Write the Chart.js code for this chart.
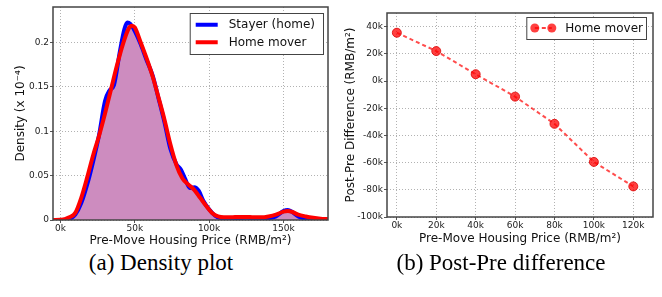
<!DOCTYPE html>
<html>
<head>
<meta charset="utf-8">
<script src="https://cdn.jsdelivr.net/npm/chart.js@4.4.0/dist/chart.umd.min.js"></script>
<style>
  body { margin: 0; width: 662px; height: 297px; background: #fff; position: relative; overflow: hidden; }
  .panel { position: absolute; top: 0; }
  #left { left: 0; width: 335px; height: 248px; }
  #right { left: 330px; width: 332px; height: 246px; }
  .caption { position: absolute; top: 250px; font-family: "Liberation Serif", serif; font-size: 23px; color: #000; white-space: nowrap; transform: translateX(-50%); }
</style>
</head>
<body>
<div class="panel" id="left"><canvas id="densityChart"></canvas></div>
<div class="panel" id="right"><canvas id="diffChart"></canvas></div>
<div class="caption" style="left:161px">(a) Density plot</div>
<div class="caption" style="left:501px">(b) Post-Pre difference</div>
<script>
// ---- (a) density curves, price in RMB/m2, density in 1e-4 ----
const stayerPrice = [-5000, 0, 3000, 6000, 10000, 14000, 18000, 22000, 26000, 30000, 33000, 36000, 40000, 43000, 45000, 47000, 50000, 54000, 58000, 62000, 66000, 70000, 74000, 78000, 81000, 84000, 87000, 90000, 93000, 96000, 100000, 104000, 108000, 112000, 120000, 125000, 130000, 135000, 140000, 145000, 150000, 153000, 156000, 160000, 165000, 170000, 175000, 180000];
const stayerDensity = [0, 0, 0.0003, 0.001, 0.006, 0.019, 0.04, 0.066, 0.096, 0.134, 0.146, 0.152, 0.19, 0.215, 0.2225, 0.221, 0.213, 0.198, 0.18, 0.163, 0.137, 0.11, 0.08, 0.063, 0.057, 0.046, 0.036, 0.037, 0.033, 0.022, 0.012, 0.005, 0.002, 0.0015, 0.002, 0.0025, 0.002, 0.0015, 0.002, 0.004, 0.010, 0.0113, 0.009, 0.004, 0.0015, 0.0008, 0.0005, 0.0003];

const moverPrice = [-5000, 0, 3000, 6000, 10000, 14000, 18000, 22000, 26000, 30000, 34000, 38000, 42000, 46000, 48000, 50000, 54000, 58000, 62000, 66000, 70000, 74000, 78000, 82000, 86000, 90000, 94000, 98000, 102000, 106000, 110000, 115000, 120000, 125000, 130000, 135000, 140000, 145000, 150000, 153000, 156000, 160000, 165000, 170000, 175000, 180000];
const moverDensity = [0, 0.0003, 0.001, 0.003, 0.008, 0.025, 0.048, 0.073, 0.095, 0.12, 0.147, 0.174, 0.198, 0.216, 0.219, 0.217, 0.200, 0.182, 0.162, 0.138, 0.113, 0.085, 0.062, 0.047, 0.040, 0.034, 0.025, 0.016, 0.008, 0.004, 0.003, 0.003, 0.0035, 0.0035, 0.003, 0.003, 0.004, 0.006, 0.0095, 0.0102, 0.009, 0.006, 0.004, 0.0025, 0.0015, 0.001];

const densityXTicks = [0, 50000, 100000, 150000];
const densityXLabels = ['0k', '50k', '100k', '150k'];
const densityYTicks = [0, 0.05, 0.1, 0.15, 0.2];
const densityYLabels = ['0', '0.05', '0.1', '0.15', '0.2'];

// ---- (b) post-pre difference ----
const prePrice = [0, 20000, 40000, 60000, 80000, 100000, 120000];
const postPreDiff = [35500, 22000, 5000, -11500, -31500, -59500, -77500];

const diffXTicks = [0, 20000, 40000, 60000, 80000, 100000, 120000];
const diffXLabels = ['0k', '20k', '40k', '60k', '80k', '100k', '120k'];
const diffYTicks = [-100000, -80000, -60000, -40000, -20000, 0, 20000, 40000];
const diffYLabels = ['-100k', '-80k', '-60k', '-40k', '-20k', '0k', '20k', '40k'];

const tickFont = { family: 'DejaVu Sans', size: 9 };
const titleFont = { family: 'DejaVu Sans', size: 12 };
const gridStyle = { color: 'rgba(0,0,0,0.3)', lineWidth: 1, tickLength: 3, tickColor: '#555', tickBorderDash: [] };
// border.dash is what dashes the grid lines in v4
const borderStyle = { display: false, dash: [1, 2] };

function fixedTicks(values) {
    return function(scale) {
        scale.ticks = values.map(v => ({ value: v }));
    };
}

function toPoints(xs, ys) {
    return xs.map((x, i) => ({ x: x, y: ys[i] }));
}

// plot frame (matplotlib spines)
const framePlugin = {
    id: 'frame',
    afterDatasetsDraw(chart) {
        const a = chart.chartArea, ctx = chart.ctx;
        ctx.save();
        ctx.strokeStyle = '#444';
        ctx.lineWidth = 1.5;
        ctx.strokeRect(a.left, a.top, a.right - a.left, a.bottom - a.top);
        ctx.restore();
    }
};

// boxed legend drawn inside the plot, top right
const boxLegendPlugin = {
    id: 'boxLegend',
    afterDraw(chart, args, opts) {
        const ctx = chart.ctx, a = chart.chartArea;
        ctx.save();
        ctx.font = '12px "DejaVu Sans"';
        const textW = Math.max(...opts.items.map(it => ctx.measureText(it.label).width));
        const w = opts.padLeft + opts.handle + opts.gap + textW + opts.padRight;
        const h = opts.padTop * 2 + opts.rowH * opts.items.length;
        const x = a.right - opts.right - w;
        const y = a.top + opts.top;
        ctx.fillStyle = '#fff';
        ctx.fillRect(x, y, w, h);
        ctx.strokeStyle = '#444';
        ctx.lineWidth = 1;
        ctx.strokeRect(x + 0.5, y + 0.5, w, h);
        opts.items.forEach((it, i) => {
            const cy = y + opts.padTop + opts.rowH * (i + 0.5);
            const x0 = x + opts.padLeft, x1 = x0 + opts.handle;
            ctx.strokeStyle = it.color;
            ctx.lineWidth = it.width;
            ctx.setLineDash(it.dash || []);
            ctx.beginPath();
            ctx.moveTo(x0 + (it.marker ? it.marker : 0), cy);
            ctx.lineTo(x1 - (it.marker ? it.marker : 0), cy);
            ctx.stroke();
            ctx.setLineDash([]);
            if (it.marker) {
                ctx.fillStyle = it.color;
                [x0 + it.marker, x1 - it.marker].forEach(mx => {
                    ctx.beginPath();
                    ctx.arc(mx, cy, it.marker, 0, Math.PI * 2);
                    ctx.fill();
                });
            }
            ctx.fillStyle = '#111';
            ctx.textBaseline = 'middle';
            ctx.fillText(it.label, x1 + opts.gap, cy + 0.5);
        });
        ctx.restore();
    }
};

// (a) Density plot
new Chart(document.getElementById('densityChart'), {
    type: 'line',
    data: {
        datasets: [{
            label: 'Stayer (home)',
            data: toPoints(stayerPrice, stayerDensity),
            borderColor: '#0000ff',
            borderWidth: 4,
            backgroundColor: '#cd8cbf',
            fill: 'origin',
            pointRadius: 0,
            cubicInterpolationMode: 'monotone',
            order: 2
        }, {
            label: 'Home mover',
            data: toPoints(moverPrice, moverDensity),
            borderColor: '#ff0000',
            borderWidth: 4,
            backgroundColor: '#cd8cbf',
            fill: 'origin',
            pointRadius: 0,
            cubicInterpolationMode: 'monotone',
            order: 1
        }]
    },
    options: {
        responsive: true,
        maintainAspectRatio: false,
        animation: false,
        layout: { padding: { left: 0, right: 7, top: 7, bottom: 0 } },
        plugins: {
            legend: { display: false },
            tooltip: { enabled: false },
            filler: { drawTime: 'beforeDatasetsDraw' },
            boxLegend: {
                right: 5, top: 6, padLeft: 6, handle: 22, gap: 11, padRight: 8, padTop: 3, rowH: 17.5,
                items: [
                    { label: 'Stayer (home)', color: '#0000ff', width: 4 },
                    { label: 'Home mover', color: '#ff0000', width: 4 }
                ]
            }
        },
        scales: {
            x: {
                type: 'linear',
                min: -5000,
                max: 180000,
                afterBuildTicks: fixedTicks(densityXTicks),
                afterFit: function(scale) { scale.height = 28; },
                grid: gridStyle,
                border: borderStyle,
                ticks: {
                    font: tickFont, color: '#222', padding: 0, maxRotation: 0,
                    callback: function(value, index) { return densityXLabels[index]; }
                },
                title: { display: true, text: 'Pre-Move Housing Price (RMB/m²)', font: titleFont, color: '#111', padding: { top: 0, bottom: 0 } }
            },
            y: {
                min: 0,
                max: 0.24,
                afterBuildTicks: fixedTicks(densityYTicks),
                afterFit: function(scale) { scale.width = 53; },
                grid: gridStyle,
                border: borderStyle,
                ticks: {
                    font: tickFont, color: '#222', padding: 1,
                    callback: function(value, index) { return densityYLabels[index]; }
                },
                title: { display: true, text: 'Density (x 10⁻⁴)', font: titleFont, color: '#111', padding: { top: 14, bottom: 0 } }
            }
        }
    },
    plugins: [framePlugin, boxLegendPlugin]
});

// (b) Post-Pre difference
new Chart(document.getElementById('diffChart'), {
    type: 'line',
    data: {
        datasets: [{
            label: 'Home mover',
            data: toPoints(prePrice, postPreDiff),
            borderColor: 'rgba(255,0,0,0.7)',
            borderWidth: 2,
            borderDash: [4, 3],
            pointRadius: 4.5,
            pointBackgroundColor: 'rgba(255,0,0,0.75)',
            pointBorderColor: 'rgba(220,0,0,0.8)',
            pointBorderWidth: 1,
            fill: false,
            tension: 0
        }]
    },
    options: {
        responsive: true,
        maintainAspectRatio: false,
        animation: false,
        layout: { padding: { left: 0, right: 9, top: 13, bottom: 0 } },
        plugins: {
            legend: { display: false },
            tooltip: { enabled: false },
            boxLegend: {
                right: 7, top: 4, padLeft: 4, handle: 26, gap: 9, padRight: 3, padTop: 2, rowH: 18,
                items: [
                    { label: 'Home mover', color: 'rgba(255,0,0,0.75)', width: 2, dash: [4, 3], marker: 4.5 }
                ]
            }
        },
        scales: {
            x: {
                type: 'linear',
                min: -5000,
                max: 130000,
                afterBuildTicks: fixedTicks(diffXTicks),
                afterFit: function(scale) { scale.height = 29; },
                grid: gridStyle,
                border: borderStyle,
                ticks: {
                    font: tickFont, color: '#222', padding: 0, maxRotation: 0,
                    callback: function(value, index) { return diffXLabels[index]; }
                },
                title: { display: true, text: 'Pre-Move Housing Price (RMB/m²)', font: titleFont, color: '#111', padding: { top: 0, bottom: 0 } }
            },
            y: {
                min: -100000,
                max: 50000,
                afterBuildTicks: fixedTicks(diffYTicks),
                afterFit: function(scale) { scale.width = 57; },
                grid: gridStyle,
                border: borderStyle,
                ticks: {
                    font: tickFont, color: '#222', padding: 1,
                    callback: function(value, index) { return diffYLabels[index]; }
                },
                title: { display: true, text: 'Post-Pre Difference (RMB/m²)', font: titleFont, color: '#111', padding: { top: 14, bottom: 0 } }
            }
        }
    },
    plugins: [framePlugin, boxLegendPlugin]
});
</script>
</body>
</html>
